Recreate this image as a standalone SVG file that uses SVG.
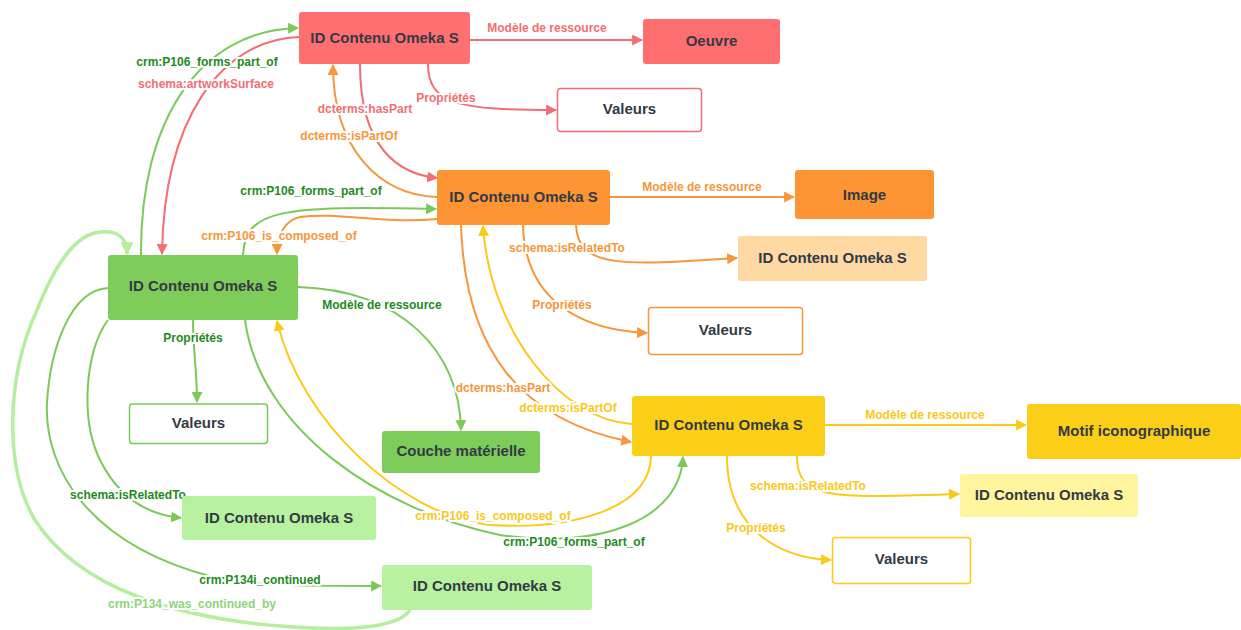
<svg xmlns="http://www.w3.org/2000/svg" width="1241" height="630" viewBox="0 0 1241 630">
<style>
.n text{font-family:"Liberation Sans",Arial,sans-serif;font-weight:bold;font-size:15px;fill:#333a45;text-anchor:middle;dominant-baseline:central}
.lbl{font-family:"Liberation Sans",Arial,sans-serif;font-weight:bold;font-size:12px;text-anchor:middle;dominant-baseline:central;stroke:#fff;stroke-width:4px;paint-order:stroke;stroke-linejoin:round}
.e{fill:none;stroke-width:2}
.r{stroke:#f26e72}.o{stroke:#f7963a}.g{stroke:#7cc95a}.lg{stroke:#b6eea0;stroke-width:3.5}.y{stroke:#f9cb18}
.tr{fill:#f26e72}.to{fill:#f7963a}.tg{fill:#1b8c1b}.tlg{fill:#8ed57a}.ty{fill:#f9c918}
</style>
<defs>
<marker id="ar" viewBox="0 0 10 10" refX="9" refY="5" markerWidth="11" markerHeight="11" markerUnits="userSpaceOnUse" orient="auto"><path d="M0,0L10,5L0,10z" fill="#f26e72"/></marker>
<marker id="ao" viewBox="0 0 10 10" refX="9" refY="5" markerWidth="11" markerHeight="11" markerUnits="userSpaceOnUse" orient="auto"><path d="M0,0L10,5L0,10z" fill="#f7963a"/></marker>
<marker id="ag" viewBox="0 0 10 10" refX="9" refY="5" markerWidth="11" markerHeight="11" markerUnits="userSpaceOnUse" orient="auto"><path d="M0,0L10,5L0,10z" fill="#7cc95a"/></marker>
<marker id="alg" viewBox="0 0 10 10" refX="9" refY="5" markerWidth="13" markerHeight="13" markerUnits="userSpaceOnUse" orient="auto"><path d="M0,0L10,5L0,10z" fill="#b6eea0"/></marker>
<marker id="ay" viewBox="0 0 10 10" refX="9" refY="5" markerWidth="11" markerHeight="11" markerUnits="userSpaceOnUse" orient="auto"><path d="M0,0L10,5L0,10z" fill="#f9cb18"/></marker>
</defs>
<rect width="1241" height="630" fill="#fff"/>
<g id="connectors">
<!-- red -->
<path class="e r" d="M470,40 L642,40" marker-end="url(#ar)"/>
<path class="e r" d="M428,64 C428,105 460,110 556,110" marker-end="url(#ar)"/>
<path class="e r" d="M360,64 C360,150 400,174 437,178" marker-end="url(#ar)"/>
<path class="e r" d="M299,37 C220,40 164,120 162,254" marker-end="url(#ar)"/>
<!-- green to red -->
<path class="e g" d="M141,255 C140,120 200,30 298,28" marker-end="url(#ag)"/>
<!-- orange -->
<path class="e o" d="M610,197 L794,197" marker-end="url(#ao)"/>
<path class="e o" d="M576,225 C578,268 620,266 737,258" marker-end="url(#ao)"/>
<path class="e o" d="M523,225 C525,300 580,330 647,333" marker-end="url(#ao)"/>
<path class="e o" d="M437,197 C380,195 333,150 333,65" marker-end="url(#ao)"/>
<path class="e o" d="M437,219 C380,224 340,212 300,217 C285,220 277,235 277,254" marker-end="url(#ao)"/>
<path class="e o" d="M461,225 C465,350 520,420 631,442" marker-end="url(#ao)"/>
<!-- green -->
<path class="e g" d="M243,255 C245,210 280,205 436,209" marker-end="url(#ag)"/>
<path class="e g" d="M298,287 C400,290 460,350 461,430" marker-end="url(#ag)"/>
<path class="e g" d="M193,320 C193,350 197,370 197,402" marker-end="url(#ag)"/>
<path class="e g" d="M108,320 C85,350 80,420 100,460 C120,500 150,515 181,518" marker-end="url(#ag)"/>
<path class="e g" d="M108,288 C70,290 50,350 47,403 C44,470 90,545 213,577 C250,586 300,586 381,586" marker-end="url(#ag)"/>
<path class="e g" d="M245,320 C260,430 380,510 500,535 C600,550 680,520 683,457" marker-end="url(#ag)"/>
<!-- light green -->
<path class="e lg" d="M410,610 C395,632 330,630 280,626 C180,618 80,590 35,520 C5,470 5,380 37,310 C55,265 75,234 100,232 C118,230 127,238 127,254" marker-end="url(#alg)"/>
<!-- yellow -->
<path class="e y" d="M825,425 L1026,425" marker-end="url(#ay)"/>
<path class="e y" d="M797,456 C797,500 830,498 959,494" marker-end="url(#ay)"/>
<path class="e y" d="M727,456 C727,530 780,558 831,560" marker-end="url(#ay)"/>
<path class="e y" d="M632,424 C560,420 490,330 483,226" marker-end="url(#ay)"/>
<path class="e y" d="M651,456 C650,510 570,530 490,525 C400,515 300,420 277,321" marker-end="url(#ay)"/>
</g>
<g id="labels">
<text class="lbl tr" x="547" y="28">Modèle de ressource</text>
<text class="lbl tr" x="446" y="98">Propriétés</text>
<text class="lbl tr" x="365" y="109">dcterms:hasPart</text>
<text class="lbl to" x="349" y="136">dcterms:isPartOf</text>
<text class="lbl tg" x="207" y="62">crm:P106_forms_part_of</text>
<text class="lbl tr" x="206" y="84">schema:artworkSurface</text>
<text class="lbl to" x="702" y="187">Modèle de ressource</text>
<text class="lbl to" x="567" y="248">schema:isRelatedTo</text>
<text class="lbl to" x="562" y="305">Propriétés</text>
<text class="lbl tg" x="311" y="191">crm:P106_forms_part_of</text>
<text class="lbl to" x="279" y="236">crm:P106_is_composed_of</text>
<text class="lbl tg" x="382" y="305">Modèle de ressource</text>
<text class="lbl tg" x="193" y="338">Propriétés</text>
<text class="lbl to" x="503" y="388">dcterms:hasPart</text>
<text class="lbl ty" x="568" y="408">dcterms:isPartOf</text>
<text class="lbl tg" x="128" y="495">schema:isRelatedTo</text>
<text class="lbl ty" x="493" y="516">crm:P106_is_composed_of</text>
<text class="lbl tg" x="574" y="542">crm:P106_forms_part_of</text>
<text class="lbl tg" x="260" y="580">crm:P134i_continued</text>
<text class="lbl tlg" x="192" y="604">crm:P134_was_continued_by</text>
<text class="lbl ty" x="925" y="415">Modèle de ressource</text>
<text class="lbl ty" x="808" y="486">schema:isRelatedTo</text>
<text class="lbl ty" x="756" y="528">Propriétés</text>
</g>
<g id="n-red" class="n"><rect x="299" y="12" width="171" height="52" rx="3" fill="#ff6f70"/><text x="384.5" y="37">ID Contenu Omeka S</text></g>
<g id="n-oeuvre" class="n"><rect x="643" y="19" width="137" height="45" rx="3" fill="#ff6f70"/><text x="711.5" y="40">Oeuvre</text></g>
<g id="n-valeurs-red" class="n"><rect x="557.5" y="88.5" width="144" height="43" rx="3" fill="#fff" stroke="#f26e72" stroke-width="1.5"/><text x="629.5" y="108">Valeurs</text></g>
<g id="n-orange" class="n"><rect x="437" y="170" width="173" height="55" rx="3" fill="#fd9534"/><text x="523.5" y="196">ID Contenu Omeka S</text></g>
<g id="n-image" class="n"><rect x="795" y="170" width="139" height="49" rx="3" fill="#fd9534"/><text x="864.5" y="194">Image</text></g>
<g id="n-orange-light" class="n"><rect x="738" y="236" width="189" height="45" rx="3" fill="#fed9a3"/><text x="832.5" y="257">ID Contenu Omeka S</text></g>
<g id="n-valeurs-orange" class="n"><rect x="648.5" y="307.5" width="154" height="47" rx="3" fill="#fff" stroke="#f7963a" stroke-width="1.5"/><text x="725.5" y="329">Valeurs</text></g>
<g id="n-green" class="n"><rect x="108" y="255" width="190" height="65" rx="3" fill="#7ecd5a"/><text x="203" y="285">ID Contenu Omeka S</text></g>
<g id="n-valeurs-green" class="n"><rect x="129.5" y="404" width="138" height="39.5" rx="3" fill="#fff" stroke="#7cc95a" stroke-width="1.5"/><text x="198.5" y="422">Valeurs</text></g>
<g id="n-couche" class="n"><rect x="382" y="431" width="158" height="42" rx="3" fill="#7ecd5a"/><text x="461" y="450">Couche matérielle</text></g>
<g id="n-green-light-1" class="n"><rect x="182" y="496" width="194" height="44" rx="3" fill="#b8f1a0"/><text x="279" y="517">ID Contenu Omeka S</text></g>
<g id="n-green-light-2" class="n"><rect x="382" y="565" width="210" height="45" rx="3" fill="#b8f1a0"/><text x="487" y="585">ID Contenu Omeka S</text></g>
<g id="n-yellow" class="n"><rect x="632" y="396" width="193" height="60" rx="3" fill="#fbcf17"/><text x="728.5" y="424">ID Contenu Omeka S</text></g>
<g id="n-motif" class="n"><rect x="1027" y="404" width="214" height="55" rx="3" fill="#fbcf17"/><text x="1134" y="430">Motif iconographique</text></g>
<g id="n-yellow-light" class="n"><rect x="960" y="474" width="178" height="43" rx="3" fill="#fef59d"/><text x="1049" y="494">ID Contenu Omeka S</text></g>
<g id="n-valeurs-yellow" class="n"><rect x="832.5" y="537.5" width="138" height="46" rx="3" fill="#fff" stroke="#f9cb18" stroke-width="1.5"/><text x="901.5" y="558">Valeurs</text></g>
</svg>
